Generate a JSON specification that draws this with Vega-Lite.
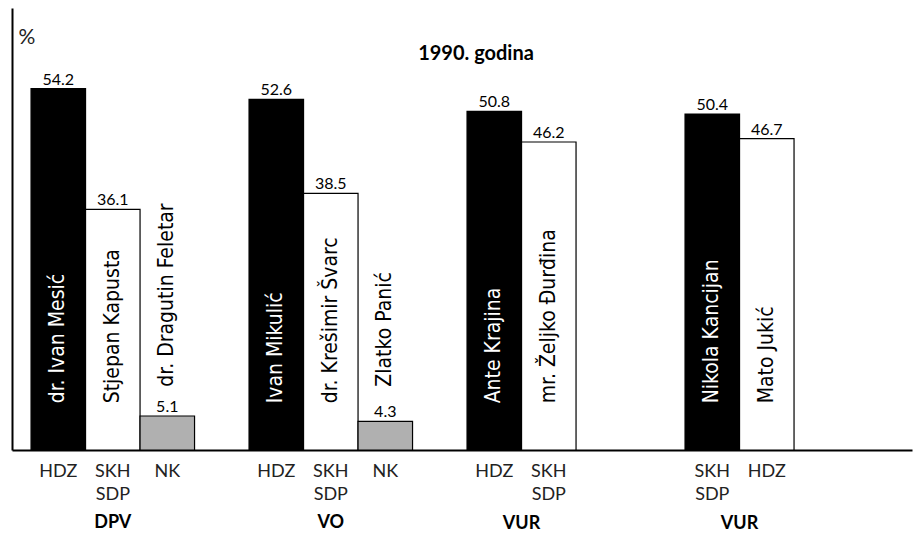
{
  "$schema": "https://vega.github.io/schema/vega-lite/v6.json",
  "width": 900,
  "height": 442,
  "autosize": "none",
  "padding": {"left": 12, "top": 8, "right": 3, "bottom": 84},
  "background": "white",
  "config": {"view": {"stroke": null}},
  "title": {"text": "1990. godina", "frame": "group", "anchor": "middle", "dx": 14, "offset": -72, "font": "Lato", "fontSize": 20, "fontWeight": "bold", "baseline": "alphabetic", "color": "black"},
  "data": {"values": [
    {"group": "DPV", "party": "HDZ", "candidate": "dr. Ivan Mesić", "pct": 54.2, "rank": "1"},
    {"group": "DPV", "party": "SKH SDP", "candidate": "Stjepan Kapusta", "pct": 36.1, "rank": "2"},
    {"group": "DPV", "party": "NK", "candidate": "dr. Dragutin Feletar", "pct": 5.1, "rank": "3"},
    {"group": "VO", "party": "HDZ", "candidate": "Ivan Mikulić", "pct": 52.6, "rank": "1"},
    {"group": "VO", "party": "SKH SDP", "candidate": "dr. Krešimir Švarc", "pct": 38.5, "rank": "2"},
    {"group": "VO", "party": "NK", "candidate": "Zlatko Panić", "pct": 4.3, "rank": "3"},
    {"group": "VUR", "party": "HDZ", "candidate": "Ante Krajina", "pct": 50.8, "rank": "1"},
    {"group": "VUR", "party": "SKH SDP", "candidate": "mr. Željko Đurđina", "pct": 46.2, "rank": "2"},
    {"group": "VUR", "party": "SKH SDP", "candidate": "Nikola Kancijan", "pct": 50.4, "rank": "1"},
    {"group": "VUR", "party": "HDZ", "candidate": "Mato Jukić", "pct": 46.7, "rank": "2"}
  ]},
  "encoding": {
    "x": {
      "field": "candidate", "type": "nominal",
      "scale": {
        "domain": ["dr. Ivan Mesić", "Stjepan Kapusta", "dr. Dragutin Feletar", " ", "Ivan Mikulić", "dr. Krešimir Švarc", "Zlatko Panić", "  ", "Ante Krajina", "mr. Željko Đurđina", "   ", "    ", "Nikola Kancijan", "Mato Jukić", "     ", "      "],
        "paddingInner": 0, "paddingOuter": 0.257, "align": 0.68
      },
      "axis": {"labels": false, "ticks": false, "title": null, "domainColor": "black", "domainWidth": 2}
    }
  },
  "layer": [
    {
      "mark": {"type": "bar", "stroke": "black", "strokeWidth": 1.2},
      "encoding": {
        "y": {"field": "pct", "type": "quantitative", "scale": {"domain": [0, 66.3], "nice": false},
          "axis": {"title": "%", "titleAngle": 0, "titleAlign": "left", "titleBaseline": "alphabetic", "titleX": 6, "titleY": 35, "titleFont": "Lato", "titleFontWeight": "normal", "titleFontSize": 21, "titleColor": "#222222", "labels": false, "ticks": false, "grid": false, "domainColor": "black", "domainWidth": 2}},
        "fill": {"field": "rank", "type": "nominal", "scale": {"domain": ["1", "2", "3"], "range": ["#000000", "#ffffff", "#b0b0b0"]}, "legend": null}
      }
    },
    {
      "mark": {"type": "text", "baseline": "alphabetic", "dy": -4, "font": "Lato", "fontSize": 16, "color": "black"},
      "encoding": {
        "y": {"field": "pct", "type": "quantitative"},
        "text": {"field": "pct", "type": "quantitative", "format": ".1f"}
      }
    },
    {
      "transform": [{"filter": "datum.rank != '3'"}],
      "mark": {"type": "text", "angle": 270, "align": "left", "baseline": "middle", "font": "DejaVu Sans Condensed, Roboto, sans-serif", "fontSize": 21},
      "encoding": {
        "y": {"datum": 7},
        "text": {"field": "candidate"},
        "color": {"field": "rank", "type": "nominal", "scale": {"domain": ["1", "2", "3"], "range": ["#ffffff", "#000000", "#000000"]}, "legend": null}
      }
    },
    {
      "transform": [{"filter": "datum.rank == '3'"}],
      "mark": {"type": "text", "angle": 270, "align": "left", "baseline": "middle", "font": "DejaVu Sans Condensed, Roboto, sans-serif", "fontSize": 21, "color": "black"},
      "encoding": {
        "y": {"datum": 9.5},
        "text": {"field": "candidate"}
      }
    },
    {
      "mark": {"type": "text", "baseline": "top", "dy": 13, "lineBreak": " ", "lineHeight": 23, "font": "Lato", "fontSize": 18, "color": "#222222"},
      "encoding": {
        "y": {"datum": 0},
        "text": {"field": "party"}
      }
    },
    {
      "transform": [{"filter": "datum.group != 'VUR' && datum.rank == '2'"}],
      "mark": {"type": "text", "baseline": "top", "dy": 64, "font": "Lato", "fontSize": 18, "fontWeight": "bold", "color": "black"},
      "encoding": {
        "x": {"field": "candidate", "type": "nominal", "bandPosition": 0.5},
        "y": {"datum": 0},
        "text": {"field": "group"}
      }
    },
    {
      "transform": [{"filter": "datum.group == 'VUR' && datum.rank == '1'"}],
      "mark": {"type": "text", "baseline": "top", "dy": 65, "font": "Lato", "fontSize": 18, "fontWeight": "bold", "color": "black"},
      "encoding": {
        "x": {"field": "candidate", "type": "nominal", "bandPosition": 1},
        "y": {"datum": 0},
        "text": {"field": "group"}
      }
    }
  ]
}
